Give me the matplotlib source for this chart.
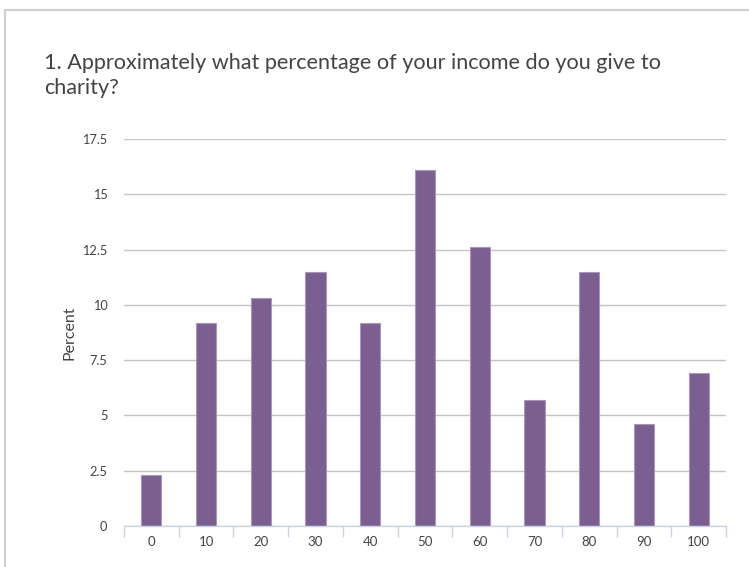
import matplotlib
matplotlib.use("Agg")
import matplotlib.pyplot as plt
from matplotlib.lines import Line2D

plt.rcParams['font.family'] = ['Lato', 'DejaVu Sans']

categories = ['0', '10', '20', '30', '40', '50', '60', '70', '80', '90', '100']
percent = [2.3, 9.2, 10.3, 11.5, 9.2, 16.1, 12.6, 5.7, 11.5, 4.6, 6.9]
yticks = [0, 2.5, 5, 7.5, 10, 12.5, 15, 17.5]
ytick_labels = ['0', '2.5', '5', '7.5', '10', '12.5', '15', '17.5']
title = "1. Approximately what percentage of your income do you give to\ncharity?"

W, H = 749, 567
fig = plt.figure(figsize=(W / 100, H / 100), dpi=100)
fig.patch.set_facecolor('white')

# screenshot frame
fig.add_artist(Line2D([5 / W, 1], [1 - 10 / H, 1 - 10 / H], color='#d0d0d0', lw=1.5))
fig.add_artist(Line2D([5 / W, 5 / W], [0, 1 - 10 / H], color='#d0d0d0', lw=1.5))

ax = fig.add_axes([124 / W, 41 / H, (726 - 124) / W, (526 - 139) / H])
x = list(range(len(categories)))
ax.bar(x, percent, width=0.37, color='#7b5f91', edgecolor='#a996b8', linewidth=0.8, zorder=3)

ax.set_xlim(-0.5, len(categories) - 0.5)
ax.set_ylim(0, 17.5)
ax.set_yticks(yticks)
ax.set_yticklabels(ytick_labels)
ax.set_xticks(x)
ax.set_xticklabels(categories)
ax.tick_params(axis='y', length=0, pad=12, labelsize=9.2, labelcolor='#444444')
ax.tick_params(axis='x', length=0, pad=7, labelsize=9.5, labelcolor='#444444')
ax.set_xticks([i - 0.5 for i in range(len(categories) + 1)], minor=True)
ax.tick_params(axis='x', which='minor', length=8, color='#c9d5e3', width=1)

ax.grid(axis='y', color='#c4c4c4', linewidth=1, zorder=0)
ax.set_axisbelow(True)
for s in ['top', 'right', 'left']:
    ax.spines[s].set_visible(False)
ax.spines['bottom'].set_color('#c9d5e3')
ax.spines['bottom'].set_linewidth(1)
ax.spines['bottom'].set_zorder(4)

ax.set_ylabel('Percent', fontsize=11.5, color='#444444', labelpad=4)

fig.text(44 / W, 1 - 53 / H, title, fontsize=15.6, color='#444444', ha='left', va='top',
         linespacing=1.3)

fig.savefig('out.png', dpi=100, facecolor='white')
